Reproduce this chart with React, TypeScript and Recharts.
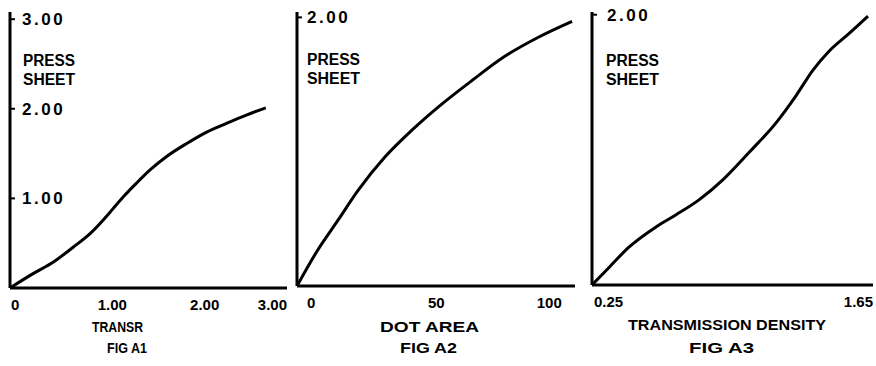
import { LineChart, Line, XAxis, YAxis } from "recharts";

// Fig A1: press sheet vs transr
const a1X = [0, 0.25, 0.47, 0.69, 0.87, 1.01, 1.12, 1.23, 1.37, 1.52, 1.7, 1.91, 2.13, 2.35, 2.56, 2.77];
const a1Y = [0, 0.16, 0.29, 0.46, 0.61, 0.76, 0.89, 1.02, 1.17, 1.32, 1.47, 1.61, 1.74, 1.84, 1.93, 2.01];
const a1XTicks = [0, 1, 2, 3];
const a1YTicks = [1, 2, 3];

// Fig A2: press sheet vs dot area
const a2X = [0, 7.9, 15.5, 23, 33.2, 43.4, 53.2, 66.1, 78.5, 91, 103.9];
const a2Y = [0, 0.27, 0.49, 0.71, 0.96, 1.16, 1.33, 1.53, 1.71, 1.85, 1.97];
const a2XTicks = [0, 50, 100];
const a2YTicks = [2];

// Fig A3: press sheet vs transmission density
const a3X = [0.25, 0.335, 0.434, 0.569, 0.669, 0.783, 0.903, 1.032, 1.167, 1.266, 1.351, 1.431, 1.53, 1.625];
const a3Y = [0, 0.13, 0.28, 0.43, 0.52, 0.63, 0.78, 0.98, 1.2, 1.4, 1.59, 1.73, 1.86, 1.99];
const a3XTicks = [0.25, 1.65];
const a3YTicks = [2];

const FONT = "'Liberation Sans', Arial, sans-serif";

const toRows = (xs: number[], ys: number[]) => xs.map((x, i) => ({ x, y: ys[i] }));

const makeXTick = (ticks: number[], fmt: (v: number) => string, firstDx: number, midDx: number) =>
  (props: any) => {
    const { x, y, payload } = props;
    const idx = ticks.indexOf(payload.value);
    const last = idx === ticks.length - 1;
    const anchor = idx === 0 ? "start" : last ? "end" : "middle";
    const dx = idx === 0 ? firstDx : last ? 0 : midDx;
    return (
      <text x={x + dx} y={y + 22} textAnchor={anchor} fontFamily={FONT} fontWeight="bold" fontSize={15} fill="#000">
        {fmt(payload.value)}
      </text>
    );
  };

const makeYTick = (dx: number) => (props: any) => {
  const { x, y, payload } = props;
  return (
    <text x={x + dx} y={y + 6} textAnchor="start" fontFamily={FONT} fontWeight="bold" fontSize={17} letterSpacing={2.5} fill="#000">
      {payload.value.toFixed(2)}
    </text>
  );
};

type PanelProps = {
  left: number;
  width: number;
  margin: { top: number; right: number; bottom: number; left: number };
  data: { x: number; y: number }[];
  xDomain: [number, number];
  yDomain: [number, number];
  xTicks: number[];
  yTicks: number[];
  fmt: (v: number) => string;
  firstDx: number;
  midDx: number;
  yDx: number;
};

function Panel(p: PanelProps) {
  return (
    <div style={{ position: "absolute", left: p.left, top: 0 }}>
      <LineChart width={p.width} height={366} data={p.data} margin={p.margin}>
        <XAxis
          type="number"
          dataKey="x"
          domain={p.xDomain}
          ticks={p.xTicks}
          interval={0}
          height={1}
          tickSize={0}
          tickMargin={0}
          tickLine={false}
          axisLine={{ stroke: "#000", strokeWidth: 3 }}
          tick={makeXTick(p.xTicks, p.fmt, p.firstDx, p.midDx)}
          allowDataOverflow
        />
        <YAxis
          type="number"
          domain={p.yDomain}
          ticks={p.yTicks}
          interval={0}
          width={1}
          mirror
          tickSize={5}
          tickMargin={0}
          tickLine={{ stroke: "#000", strokeWidth: 2 }}
          axisLine={{ stroke: "#000", strokeWidth: 3 }}
          tick={makeYTick(p.yDx)}
          allowDataOverflow
        />
        <Line
          type="monotone"
          dataKey="y"
          stroke="#000"
          strokeWidth={3}
          dot={false}
          isAnimationActive={false}
        />
      </LineChart>
    </div>
  );
}

const titles = [
  { text: "PRESS", x: 23, y: 66, w: 52, fs: 16 },
  { text: "SHEET", x: 23, y: 85, w: 52, fs: 16 },
  { text: "TRANSR", x: 92, y: 332, w: 51, fs: 14 },
  { text: "FIG A1", x: 107, y: 353, w: 40, fs: 14 },
  { text: "PRESS", x: 307, y: 65, w: 53, fs: 16 },
  { text: "SHEET", x: 307, y: 84, w: 53, fs: 16 },
  { text: "DOT AREA", x: 380, y: 332, w: 99, fs: 14 },
  { text: "FIG A2", x: 400, y: 353, w: 57, fs: 14 },
  { text: "PRESS", x: 606, y: 66, w: 53, fs: 16 },
  { text: "SHEET", x: 606, y: 85, w: 53, fs: 16 },
  { text: "TRANSMISSION DENSITY", x: 628, y: 330, w: 198, fs: 14 },
  { text: "FIG A3", x: 689, y: 353, w: 65, fs: 14 },
];

export default function App() {
  return (
    <div style={{ position: "absolute", left: 0, top: 0, width: 876, height: 366, background: "#fff", overflow: "hidden" }}>
      <Panel
        left={0}
        width={300}
        margin={{ top: 12, right: 13, bottom: 77, left: 10 }}
        data={toRows(a1X, a1Y)}
        xDomain={[0, 3]}
        yDomain={[0, 3.08]}
        xTicks={a1XTicks}
        yTicks={a1YTicks}
        fmt={(v) => (v === 0 ? "0" : v.toFixed(2))}
        firstDx={1}
        midDx={10}
        yDx={7}
      />
      <Panel
        left={290}
        width={300}
        margin={{ top: 12, right: 15, bottom: 79, left: 7 }}
        data={toRows(a2X, a2Y)}
        xDomain={[0, 105]}
        yDomain={[0, 2.04]}
        xTicks={a2XTicks}
        yTicks={a2YTicks}
        fmt={(v) => String(v)}
        firstDx={10}
        midDx={7}
        yDx={5}
      />
      <Panel
        left={585}
        width={291}
        margin={{ top: 12, right: 3, bottom: 80, left: 7 }}
        data={toRows(a3X, a3Y)}
        xDomain={[0.25, 1.65]}
        yDomain={[0, 2.02]}
        xTicks={a3XTicks}
        yTicks={a3YTicks}
        fmt={(v) => v.toFixed(2)}
        firstDx={2}
        midDx={0}
        yDx={10}
      />
      <svg width={876} height={366} style={{ position: "absolute", left: 0, top: 0, pointerEvents: "none" }}>
        {titles.map((t, i) => (
          <text
            key={i}
            x={t.x}
            y={t.y}
            textLength={t.w}
            lengthAdjust="spacingAndGlyphs"
            fontFamily={FONT}
            fontWeight="bold"
            fontSize={t.fs}
            fill="#000"
          >
            {t.text}
          </text>
        ))}
      </svg>
    </div>
  );
}
